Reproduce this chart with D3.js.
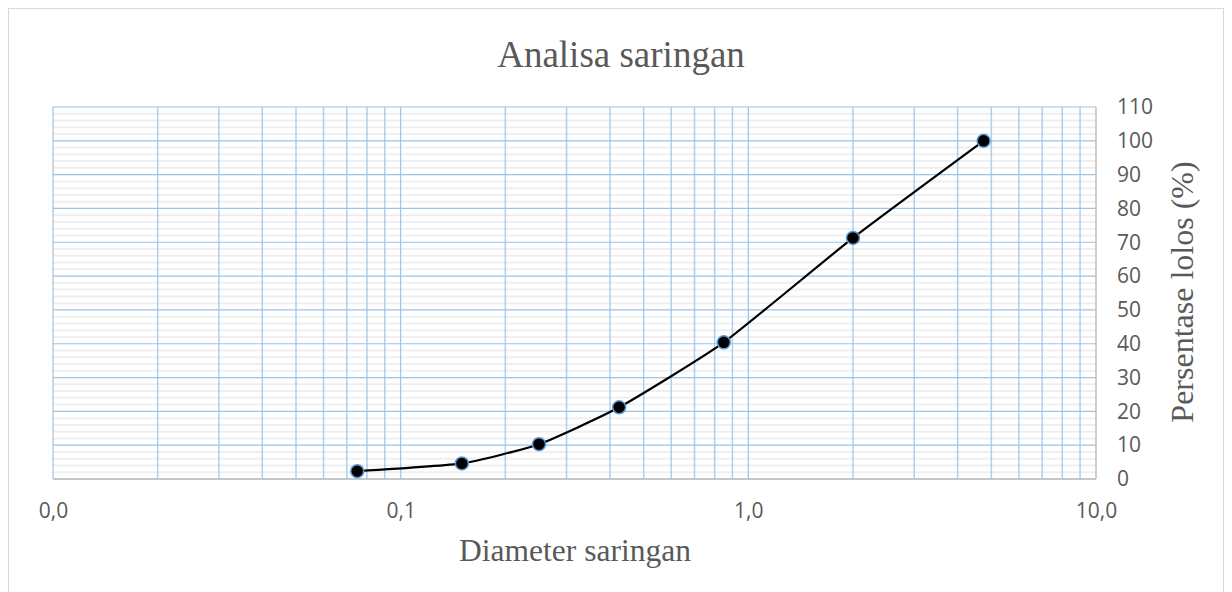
<!DOCTYPE html>
<html><head><meta charset="utf-8">
<script src="https://cdn.jsdelivr.net/npm/d3@7"></script>
<style>body{margin:0;background:#fff}</style>
</head><body>
<svg id="c" width="1232" height="592"></svg>
<script>
const diameters = [0.075, 0.15, 0.25, 0.425, 0.85, 2.0, 4.75];
const passing = [2.3, 4.6, 10.3, 21.2, 40.4, 71.3, 100];
const xTickValues = [0.01, 0.1, 1, 10];
const yTickValues = [0,10,20,30,40,50,60,70,80,90,100,110];
const titleText = "Analisa saringan";
const xTitle = "Diameter saringan";
const yTitle = "Persentase lolos (%)";

const svg = d3.select("#c");
const L = 53, R = 1096, T = 107, B = 479;
const x = d3.scaleLog().domain([0.01, 10]).range([L, R]);
const y = d3.scaleLinear().domain([0, 110]).range([B, T]);

svg.append("rect").attr("x",8.5).attr("y",8.5).attr("width",1215).attr("height",600)
  .attr("fill","#fff").attr("stroke","#d9d9d9");

const g = svg.append("g");
g.selectAll(".hmin").data(d3.range(0,111,2).filter(v=>v%10!==0)).join("line")
  .attr("x1",L).attr("x2",R).attr("y1",d=>y(d)).attr("y2",d=>y(d))
  .attr("stroke","#efefef").attr("stroke-width",2);
const vminor = [];
for (let e=-2;e<1;e++) for (let k=2;k<=9;k++) vminor.push(k*Math.pow(10,e));
g.selectAll(".vmin").data(vminor).join("line")
  .attr("x1",d=>x(d)).attr("x2",d=>x(d)).attr("y1",T).attr("y2",B)
  .attr("stroke","#9dc3e6").attr("stroke-width",1.5).attr("stroke-opacity",0.8);
g.selectAll(".hmaj").data(yTickValues).join("line")
  .attr("x1",L).attr("x2",R).attr("y1",d=>y(d)).attr("y2",d=>y(d))
  .attr("stroke","#9dc3e6").attr("stroke-width",1.2);
g.selectAll(".vmaj").data([0.01,0.1,1]).join("line")
  .attr("x1",d=>x(d)).attr("x2",d=>x(d)).attr("y1",T).attr("y2",B)
  .attr("stroke","#9dc3e6").attr("stroke-width",1.2);
g.append("line").attr("x1",L).attr("x2",R).attr("y1",B).attr("y2",B).attr("stroke","#bfbfbf").attr("stroke-width",1.5);
g.append("line").attr("x1",R).attr("x2",R).attr("y1",T).attr("y2",B).attr("stroke","#bfbfbf").attr("stroke-width",1.5);

const fmt = d => d3.format(".1f")(d).replace(".",",");
const xAxis = d3.axisBottom(x).tickValues(xTickValues).tickFormat(fmt).tickSize(0).tickPadding(24);
const xa = svg.append("g").attr("transform",`translate(0,${B})`).call(xAxis);
xa.select(".domain").remove();
xa.selectAll("text").style("font-family","'Open Sans', sans-serif").style("font-size","21px").attr("fill","#595959");

const yAxis = d3.axisRight(y).tickValues(yTickValues).tickSize(0).tickPadding(21);
const ya = svg.append("g").attr("transform",`translate(${R},0)`).call(yAxis);
ya.select(".domain").remove();
ya.selectAll("text").style("font-family","'Open Sans', sans-serif").style("font-size","21px").attr("fill","#595959");

const pts = diameters.map((d,i)=>[d,passing[i]]);
svg.append("path").datum(pts)
  .attr("d", d3.line().x(d=>x(d[0])).y(d=>y(d[1])).curve(d3.curveCardinal.tension(0.5)))
  .attr("fill","none").attr("stroke","#000").attr("stroke-width",2.2);
svg.selectAll(".pt").data(pts).join("circle")
  .attr("cx",d=>x(d[0])).attr("cy",d=>y(d[1])).attr("r",6.5)
  .attr("fill","#000").attr("stroke","#5b9bd5").attr("stroke-width",1.5);

svg.append("text").attr("x",621).attr("y",67).attr("text-anchor","middle")
  .attr("font-family","'Liberation Serif', serif").attr("font-size",37).attr("fill","#595959").text(titleText);
svg.append("text").attr("x",575).attr("y",561).attr("text-anchor","middle")
  .attr("font-family","'Liberation Serif', serif").attr("font-size",31.5).attr("fill","#595959").text(xTitle);
svg.append("text").attr("transform","translate(1193,292) rotate(-90)").attr("text-anchor","middle")
  .attr("font-family","'Liberation Serif', serif").attr("font-size",32).attr("fill","#595959").text(yTitle);
</script>
</body></html>
